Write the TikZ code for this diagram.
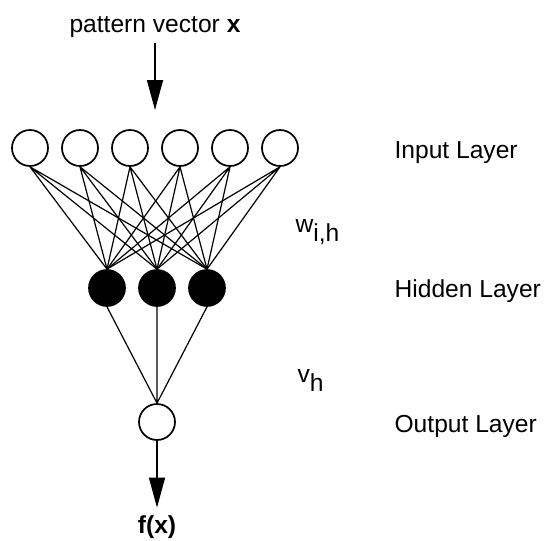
\documentclass[tikz,border=0pt]{standalone}
\usepackage{fontspec}
\setmainfont{Liberation Sans}
\usepackage{tikz}
\usetikzlibrary{arrows.meta}
\tikzstyle{inunit}=[draw,fill=white,circle,minimum size=36pt,inner sep=0pt,line width=1.7pt]
\tikzstyle{hidunit}=[inunit,fill=black]
\tikzstyle{tag}=[inner sep=0pt,anchor=base west]
\tikzstyle{feed}=[line width=1.5pt,-{Triangle[length=30pt,width=16pt]}]

\begin{document}
\begin{tikzpicture}[x=1pt,y=-1pt,line width=1.2pt,font=\fontsize{24.6}{29}\selectfont]
\useasboundingbox (0,0) rectangle (544,541);
% input layer
\draw (30, 148) node [inunit] (i1) {};
\draw (80, 148) node [inunit] (i2) {};
\draw (130, 148) node [inunit] (i3) {};
\draw (180, 148) node [inunit] (i4) {};
\draw (230, 148) node [inunit] (i5) {};
\draw (280, 148) node [inunit] (i6) {};
% hidden layer
\draw (107, 288) node [hidunit] (h1) {};
\draw (157, 288) node [hidunit] (h2) {};
\draw (207, 288) node [hidunit] (h3) {};
% output layer
\draw (157, 422) node [inunit] (o1) {};
% weights w_{i,h}
\draw (i1.south) -- (h1.north) (i1.south) -- (h2.north) (i1.south) -- (h3.north);
\draw (i2.south) -- (h1.north) (i2.south) -- (h2.north) (i2.south) -- (h3.north);
\draw (i3.south) -- (h1.north) (i3.south) -- (h2.north) (i3.south) -- (h3.north);
\draw (i4.south) -- (h1.north) (i4.south) -- (h2.north) (i4.south) -- (h3.north);
\draw (i5.south) -- (h1.north) (i5.south) -- (h2.north) (i5.south) -- (h3.north);
\draw (i6.south) -- (h1.north) (i6.south) -- (h2.north) (i6.south) -- (h3.north);
% weights v_h
\draw (h1.south) -- (o1.north) (h2.south) -- (o1.north) (h3.south) -- (o1.north);
% in and out
\draw (155, 32) node [inner sep=0pt,anchor=base] (pat) {pattern vector \textbf{x}};
\coordinate (xtip) at (155, 110);
\draw [feed] ([yshift=-5pt]pat.south) -- (xtip);
\draw (157, 533) node [inner sep=0pt,anchor=base] (fx) {\textbf{f(x)}};
\draw [feed] (o1.south) -- ([yshift=7pt]fx.north);
% labels
\draw (394, 158) node [tag] (lin) {Input Layer};
\draw (394, 297) node [tag] (lhid) {Hidden Layer};
\draw (394, 432) node [tag] (lout) {Output Layer};
\draw (295, 232) node [tag] (lw) {w\raisebox{-9pt}{i,h}};
\draw (297, 382) node [tag] (lv) {v\raisebox{-9pt}{h}};
\end{tikzpicture}
\end{document}
